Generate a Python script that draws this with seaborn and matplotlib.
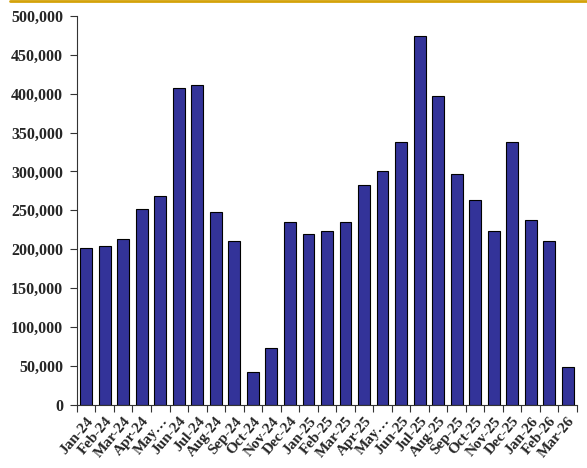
import matplotlib
matplotlib.use("Agg")
import matplotlib.pyplot as plt
import matplotlib.ticker as mticker
import seaborn as sns
import pandas as pd
import numpy as np

months = ["Jan-24", "Feb-24", "Mar-24", "Apr-24", "May…", "Jun-24", "Jul-24", "Aug-24",
          "Sep-24", "Oct-24", "Nov-24", "Dec-24", "Jan-25", "Feb-25", "Mar-25", "Apr-25",
          "May…", "Jun-25", "Jul-25", "Aug-25", "Sep-25", "Oct-25", "Nov-25", "Dec-25",
          "Jan-26", "Feb-26", "Mar-26"]
values = [202000, 204000, 213000, 252000, 269000, 407000, 411000, 248000,
          211000, 42000, 73000, 235000, 220000, 224000, 235000, 283000,
          300000, 338000, 474000, 397000, 297000, 263000, 224000, 338000,
          238000, 211000, 49000]
y_ticks = [0, 50000, 100000, 150000, 200000, 250000, 300000, 350000, 400000, 450000, 500000]

sns.set_theme(style="white")
plt.rcParams["font.family"] = ["Liberation Serif", "DejaVu Serif"]

df = pd.DataFrame({"pos": np.arange(len(values)), "value": values})

fig = plt.figure(figsize=(5.87, 4.68), dpi=100)
ax = fig.add_axes([0.131, 0.135, 0.852, 0.831])

sns.barplot(data=df, x="pos", y="value", color="#333399", saturation=1,
            width=0.64, edgecolor="black", linewidth=0.8, native_scale=True, ax=ax)

ax.set_xlim(-0.5, len(values) - 0.5)
ax.set_ylim(0, 500000)
ax.set_yticks(y_ticks)
ax.yaxis.set_major_formatter(mticker.FuncFormatter(lambda v, p: f"{int(v):,}"))
for lbl in ax.get_yticklabels():
    lbl.set_fontweight("bold")
    lbl.set_fontsize(11.5)

ax.xaxis.set_major_locator(mticker.FixedLocator(np.arange(len(values))))
ax.set_xticklabels(months, rotation=50, ha="right", rotation_mode="anchor",
                   fontsize=11, fontweight="bold")
ax.xaxis.set_minor_locator(mticker.FixedLocator(np.arange(len(values) + 1) - 0.5))
ax.tick_params(axis="x", which="major", length=0, pad=7)
ax.tick_params(axis="x", which="minor", length=5, width=0.8, color="#333333",
               direction="out", bottom=True)
ax.tick_params(axis="y", which="major", length=5, width=0.8, color="#333333",
               direction="out", left=True, pad=5)

ax.set_xlabel("")
ax.set_ylabel("")
sns.despine(ax=ax)
for s in ("left", "bottom"):
    ax.spines[s].set_color("#333333")
    ax.spines[s].set_linewidth(0.8)

# gold rule across the top of the figure
fig.add_artist(plt.Line2D([0.017, 1.0], [0.997, 0.997], color="#D4A20A", linewidth=2.0,
                          transform=fig.transFigure))

fig.savefig("out.png", dpi=100)
